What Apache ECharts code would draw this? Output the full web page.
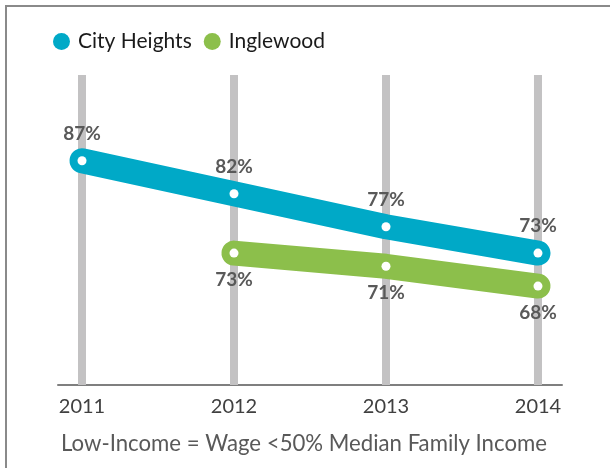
<!DOCTYPE html>
<html>
<head>
	<meta charset="utf-8">
	<title>low income</title>
	<script src="https://cdn.jsdelivr.net/npm/echarts@6/dist/echarts.min.js"></script>
	<style>
		body { margin: 0; }
		#frame { position: absolute; left: 5px; top: 5px; width: 640px; height: 500px; border-left: 2px solid #8a8a8a; border-top: 2px solid #8a8a8a; }
		#main { position: absolute; left: 0; top: 0; width: 610px; height: 468px; }
	</style>
</head>
<body>
	<div id="frame"></div>
	<div id="main"></div>
	<script type="text/javascript">
		var years = [2011, 2012, 2013, 2014];
		var cityHeights = [87, 82, 77, 73];
		var inglewood = [null, 73, 71, 68];
		var trackTop = 100; // grey guide bars run to top of the scale
		var footnote = 'Low-Income = Wage <50% Median Family Income';

		var tealC = '#00a9c7';
		var greenC = '#8cbf4b';

		function pairs(vals) {
			var out = [];
			years.forEach(function (y, i) {
				if (vals[i] != null) out.push([y, vals[i]]);
			});
			return out;
		}

		var labelStyle = {
			show: true,
			distance: 13,
			fontFamily: 'Lato',
			fontWeight: 'bold',
			fontSize: 19,
			color: '#595959',
			formatter: function (p) { return p.value[1] + '%'; }
		};

		var myChart = echarts.init(document.getElementById('main'));

		var option = {
			animation: false,
			title: {
				text: footnote,
				left: 56,
				top: 428,
				textStyle: { fontFamily: 'Lato', fontWeight: 'normal', fontSize: 22.2, color: '#595959' }
			},
			legend: {
				left: 53,
				top: 31,
				padding: 0,
				icon: 'circle',
				itemWidth: 17,
				itemHeight: 17,
				itemGap: 12,
				textStyle: { fontFamily: 'Lato', fontSize: 21, color: '#1a1a1a', padding: [0, 0, 0, 3] },
				data: [
					{ name: 'City Heights', itemStyle: { color: tealC } },
					{ name: 'Inglewood', itemStyle: { color: greenC } }
				]
			},
			grid: { left: 58, right: 48, top: 75, bottom: 83 },
			xAxis: {
				type: 'value',
				min: 2010.842,
				max: 2014.158,
				splitLine: { show: false },
				axisTick: { show: false },
				axisLine: { show: true, lineStyle: { color: '#7f7f7f', width: 2 } },
				axisLabel: {
					customValues: years,
					formatter: function (v) { return String(v); },
					margin: 12,
					fontFamily: 'Lato',
					fontSize: 20,
					color: '#404040'
				}
			},
			yAxis: {
				type: 'value',
				min: 53,
				max: trackTop,
				show: false
			},
			series: [
				{
					name: 'track',
					type: 'bar',
					barWidth: 8,
					silent: true,
					z: 1,
					itemStyle: { color: '#c3c2c3' },
					data: years.map(function (y) { return [y, trackTop]; })
				},
				{
					name: 'City Heights',
					type: 'line',
					z: 3,
					data: pairs(cityHeights),
					symbol: 'circle',
					symbolSize: 9,
					itemStyle: { color: '#ffffff' },
					lineStyle: { color: tealC, width: 25, cap: 'round', join: 'round' },
					label: Object.assign({ position: 'top' }, labelStyle),
					emphasis: { disabled: true }
				},
				{
					name: 'Inglewood',
					type: 'line',
					z: 3,
					data: pairs(inglewood),
					symbol: 'circle',
					symbolSize: 9,
					itemStyle: { color: '#ffffff' },
					lineStyle: { color: greenC, width: 25, cap: 'round', join: 'round' },
					label: Object.assign({ position: 'bottom' }, labelStyle),
					emphasis: { disabled: true }
				}
			]
		};

		myChart.setOption(option);
	</script>
</body>
</html>
